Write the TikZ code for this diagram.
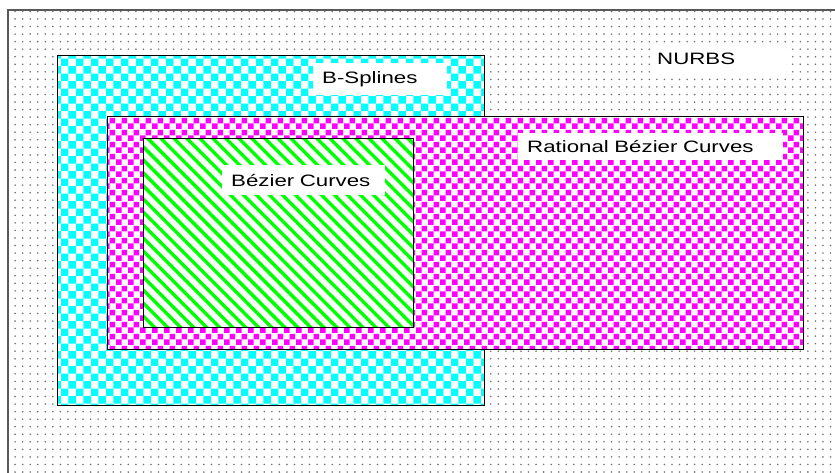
\documentclass[tikz,border=0pt]{standalone}
\usepackage{fontspec}
\usetikzlibrary{patterns,patterns.meta}
\newfontfamily\labelfont[FakeStretch=1.35]{Liberation Sans}

% checker tiles for the two spline families
\tikzdeclarepattern{name=bigchecks, type=uncolored,
  bounding box={(0pt,0pt) and (15.4pt,15.4pt)}, tile size={(15.4pt,15.4pt)},
  code={\fill (0pt,0pt) rectangle (7.7pt,7.7pt);
        \fill (7.7pt,7.7pt) rectangle (15.4pt,15.4pt);}}
\tikzdeclarepattern{name=smallchecks, type=uncolored,
  bounding box={(0pt,0pt) and (11.6pt,11.6pt)}, tile size={(11.6pt,11.6pt)},
  code={\fill (0pt,0pt) rectangle (5.8pt,5.8pt);
        \fill (5.8pt,5.8pt) rectangle (11.6pt,11.6pt);}}

\begin{document}
\begin{tikzpicture}[x = 1pt, y = -1pt,
                    set/.style = {draw = black, line width = 1pt, preaction = {fill = white}},
                    lbl/.style = {fill = white, anchor = north west, align = left,
                                  inner xsep = 9pt, inner ysep = 0pt,
                                  font = \labelfont\fontsize{16.5}{18}\selectfont}]

\useasboundingbox (0,0) rectangle (835,472);
\clip (0,0) rectangle (835,472);

% NURBS
\draw[set, draw = black!65, line width = 1.3pt,
      pattern = {Dots[distance = 7.55pt, radius = 0.9pt]}, pattern color = black!55]
     (8,10) rectangle (850,490);

% B-splines
\draw[set, pattern = bigchecks, pattern color = cyan] (57,55) rectangle (484,405);

% rational Bezier curves
\draw[set, pattern = smallchecks, pattern color = magenta] (107,116) rectangle (803,349);

% Bezier curves
\draw[set, pattern = {Lines[angle = -45, distance = 9.2pt, line width = 3.4pt]},
      pattern color = green] (143,138) rectangle (413,327);

% labels
\node [lbl, inner xsep = 5pt, text width = 124pt, minimum height = 28pt] (nurbs) at (652,45) {NURBS};
\node [lbl, text width = 116pt, minimum height = 32pt] (bsp) at (313,63) {B-Splines};
\node [lbl, text width = 247pt, minimum height = 27pt] (rbc) at (518,133) {Rational Bézier Curves};
\node [lbl, text width = 145pt, minimum height = 30pt] (bc) at (222,165) {Bézier Curves};
\end{tikzpicture}
\end{document}
